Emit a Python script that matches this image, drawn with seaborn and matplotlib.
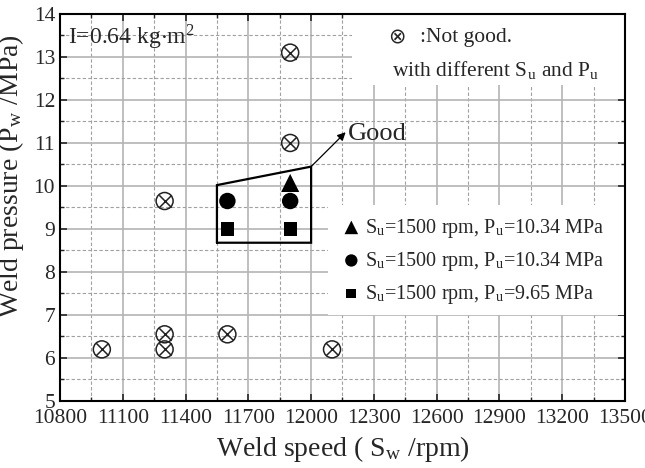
import matplotlib
matplotlib.use('Agg')
import matplotlib.pyplot as plt
import seaborn as sns
import pandas as pd
from matplotlib.patches import Rectangle
from matplotlib.ticker import MultipleLocator

# not good welds (circled x)
ng_speed = [11000, 11300, 11300, 11300, 11600, 11900, 11900, 12100]
ng_pressure = [6.2, 6.2, 6.55, 9.65, 6.55, 11.0, 13.1, 6.2]

# good welds
tri_speed = [11900]
tri_pressure = [10.07]
circ_speed = [11600, 11900]
circ_pressure = [9.65, 9.65]
sq_speed = [11600, 11900]
sq_pressure = [9.0, 9.0]

# outline of the good region
good_x = [11550, 11550, 12000, 12000, 11550]
good_y = [8.68, 10.02, 10.45, 8.68, 8.68]

x_ticks = list(range(10800, 13501, 300))
y_ticks = list(range(5, 15))

sns.set_style('ticks')
plt.rcParams['font.family'] = ['Liberation Serif', 'DejaVu Serif']
plt.rcParams['mathtext.fontset'] = 'stix'
plt.rcParams['xtick.direction'] = 'in'
plt.rcParams['ytick.direction'] = 'in'

fig = plt.figure(figsize=(6.45, 4.68), dpi=100)
ax = fig.add_axes([0.093, 0.1432, 0.876, 0.827])

ng = pd.DataFrame({'speed': ng_speed, 'pressure': ng_pressure})
sns.scatterplot(data=ng, x='speed', y='pressure', ax=ax, marker='o', s=150,
                facecolor='none', edgecolor='#222222', linewidth=1.1, zorder=4)
sns.scatterplot(data=ng, x='speed', y='pressure', ax=ax, marker='x', s=80,
                color='#222222', linewidth=1.1, zorder=4)

su = r'S$_\mathregular{u}$'
pu = r'P$_\mathregular{u}$'
sns.scatterplot(x=tri_speed, y=tri_pressure, ax=ax, marker='^', s=170, color='black',
                edgecolor='none', zorder=5, label=su + '=1500 rpm, ' + pu + '=10.34 MPa')
sns.scatterplot(x=circ_speed, y=circ_pressure, ax=ax, marker='o', s=140, color='black',
                edgecolor='none', zorder=5, label=su + '=1500 rpm, ' + pu + '=10.34 MPa')
sns.scatterplot(x=sq_speed, y=sq_pressure, ax=ax, marker='s', s=90, color='black',
                edgecolor='none', zorder=5, label=su + '=1500 rpm, ' + pu + '=9.65 MPa')

ax.plot(good_x, good_y, color='black', lw=1.6, zorder=3, solid_joinstyle='miter')
ax.annotate('', xy=(12165, 11.25), xytext=(12000, 10.45),
            arrowprops=dict(arrowstyle='-|>', color='black', lw=0.9, mutation_scale=12,
                            shrinkA=0, shrinkB=0),
            zorder=3)
ax.text(12175, 11.2, 'Good', fontsize=19, va='center', ha='left', zorder=3)

ax.set_xlim(10800, 13500)
ax.set_ylim(5, 14)
ax.set_xticks(x_ticks)
ax.set_yticks(y_ticks)
ax.xaxis.set_minor_locator(MultipleLocator(150))
ax.yaxis.set_minor_locator(MultipleLocator(0.5))
ax.tick_params(which='major', length=5, width=1.2, labelsize=15.5, top=True, right=True)
ax.tick_params(which='minor', length=3, width=1.0, top=True, right=True)
ax.tick_params(axis='x', pad=6)
ax.set_axisbelow(True)
ax.grid(which='major', color='#b4b4b4', lw=1.2, ls='-')
ax.grid(which='minor', color='#a0a0a0', lw=0.8, ls=(0, (3, 2)))
for sp in ax.spines.values():
    sp.set_linewidth(1.5)
    sp.set_color('black')

# white boxes behind the note and legend
ax.add_patch(Rectangle((0.517, 0.817), 0.483, 0.183, transform=ax.transAxes,
                       facecolor='white', edgecolor='none', zorder=1))
ax.add_patch(Rectangle((0.474, 0.222), 0.526, 0.284, transform=ax.transAxes,
                       facecolor='white', edgecolor='none', zorder=1))

ax.text(0.015, 0.94, r'I=0.64 kg$\cdot$m$^\mathregular{2}$', transform=ax.transAxes,
        fontsize=17, va='center', ha='left')
ax.text(0.58, 0.94, '\u2297', transform=ax.transAxes, fontsize=15, va='center', ha='left',
        family=['DejaVu Sans'])
ax.text(0.637, 0.94, ':Not good.', transform=ax.transAxes, fontsize=15.5, va='center',
        ha='left')
ax.text(0.587, 0.855, 'with different ' + su + ' and ' + pu, transform=ax.transAxes,
        fontsize=15.5, va='center', ha='left')

ax.legend(loc='upper left', bbox_to_anchor=(0.48, 0.497), frameon=False, fontsize=14.5,
          handletextpad=0.1, labelspacing=0.5, handlelength=1.2, borderaxespad=0,
          markerscale=0.75)

ax.set_xlabel(r'Weld speed ( S$_\mathregular{w}$ /rpm)', fontsize=20, labelpad=4)
ax.set_ylabel(r'Weld pressure (P$_\mathregular{w}$ /MPa)', fontsize=20)
ax.yaxis.set_label_coords(-0.06, 0.58)

fig.savefig('out.png', dpi=100)
